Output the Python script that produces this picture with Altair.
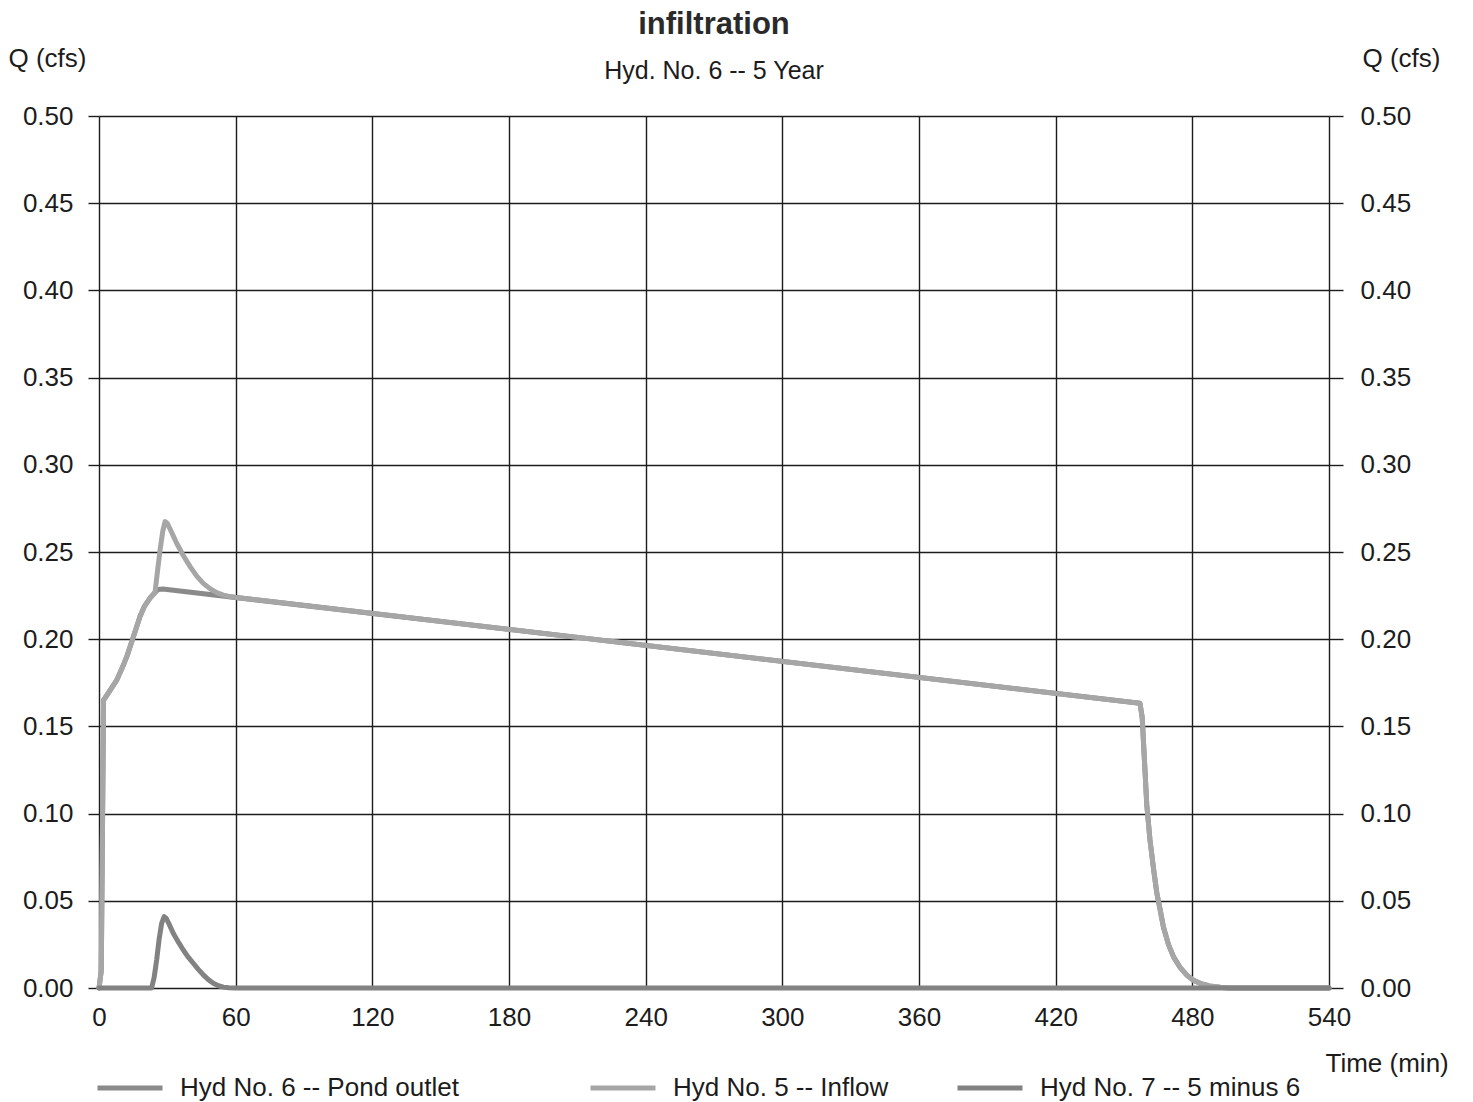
import altair as alt
import pandas as pd

# Hydrograph ordinates, time in minutes and flow in cfs
outlet_t = [0, 1, 2, 4, 6, 7.8, 10, 12.2, 15.1, 18, 20, 22.4, 24.6, 26, 28,
            457, 458, 459, 460, 461.4, 463, 464.4, 466, 467.3, 469.5, 471.7, 474.5,
            477.5, 480.5, 483.4, 487.5, 492.2, 496, 540]
outlet_q = [0, 0.01, 0.165, 0.169, 0.173, 0.1766, 0.183, 0.190, 0.2014, 0.213, 0.219, 0.2236,
            0.2268, 0.2285, 0.2288,
            0.1633, 0.155, 0.130, 0.105, 0.085, 0.068, 0.0545, 0.044, 0.035, 0.025, 0.018, 0.012,
            0.0075, 0.0045, 0.0027, 0.0012, 0.0004, 0, 0]

inflow_t = [0, 1, 2, 4, 6, 7.8, 10, 12.2, 15.1, 18, 20, 22.4, 24.6, 25.5, 26.8, 28, 29, 30,
            32, 34.1, 37, 40, 43, 45.8, 48.7, 51.7, 54.6, 57.5,
            457, 458, 459, 460, 461.4, 463, 464.4, 466, 467.3, 469.5, 471.7, 474.5,
            477.5, 480.5, 483.4, 487.5, 492.2, 496, 540]
inflow_q = [0, 0.01, 0.165, 0.169, 0.173, 0.1766, 0.183, 0.190, 0.2014, 0.213, 0.219, 0.2236,
            0.2268, 0.237, 0.251, 0.262, 0.2674, 0.2665,
            0.261, 0.255, 0.248, 0.2416, 0.236, 0.232, 0.229, 0.2267, 0.2253, 0.2244,
            0.1633, 0.155, 0.130, 0.105, 0.085, 0.068, 0.0545, 0.044, 0.035, 0.025, 0.018, 0.012,
            0.0075, 0.0045, 0.0027, 0.0012, 0.0004, 0, 0]

diff_t = [0, 23.1, 24.2, 25.3, 26.4, 27.5, 28.6, 29.5, 31, 32.6, 35, 37, 39, 41.4, 43.5,
          45.8, 48, 50.2, 52.4, 54.6, 57, 60, 540]
diff_q = [0, 0, 0.006, 0.016, 0.028, 0.037, 0.0409, 0.040, 0.036, 0.0314, 0.026, 0.0218, 0.018,
          0.0142, 0.0108, 0.0075, 0.0048, 0.0027, 0.0013, 0.0005, 0.0001, 0, 0]

series_names = ["Hyd No. 6 -- Pond outlet", "Hyd No. 5 -- Inflow", "Hyd No. 7 -- 5 minus 6"]
series_colors = ["#8a8a8a", "#a6a6a6", "#828282"]
legend_x = [-4, 489, 856]

x_ticks = [0, 60, 120, 180, 240, 300, 360, 420, 480, 540]
y_ticks = [0.0, 0.05, 0.10, 0.15, 0.20, 0.25, 0.30, 0.35, 0.40, 0.45, 0.50]

FONT = "Liberation Sans"
INK = "#1c1c1c"

frames = [
    pd.DataFrame({"t": outlet_t, "q": outlet_q, "series": series_names[0]}),
    pd.DataFrame({"t": inflow_t, "q": inflow_q, "series": series_names[1]}),
    pd.DataFrame({"t": diff_t, "q": diff_q, "series": series_names[2]}),
]

x_enc = alt.X(
    "t:Q",
    scale=alt.Scale(domain=[0, 540], nice=False, zero=False),
    axis=alt.Axis(
        values=x_ticks, format="d", grid=True, gridColor=INK, gridWidth=1.4, gridOpacity=1,
        domain=False, ticks=False, tickSize=0, labelPadding=16, labelFlush=False,
        labelFont=FONT, labelFontSize=26, labelColor=INK,
        title="Time (min)", titleFont=FONT, titleFontSize=26, titleFontWeight="normal",
        titleColor=INK, titleX=1226, titleY=83, titleAlign="left", titleBaseline="alphabetic",
        titleAnchor="start",
    ),
)

y_scale = alt.Scale(domain=[0, 0.5], nice=False)

left_axis = alt.Axis(
    values=y_ticks, format=".2f", grid=True, gridColor=INK, gridWidth=1.4, gridOpacity=1,
    domain=False, ticks=True, tickSize=11, tickColor=INK, tickWidth=1.4, labelPadding=15,
    labelFont=FONT, labelFontSize=26, labelColor=INK,
    title="Q (cfs)", titleFont=FONT, titleFontSize=26, titleFontWeight="normal", titleColor=INK,
    titleAngle=0, titleX=-91, titleY=-50, titleAlign="left", titleBaseline="alphabetic",
)

right_axis = alt.Axis(
    orient="right", values=y_ticks, format=".2f", grid=False,
    domain=False, ticks=True, tickSize=14, tickColor=INK, tickWidth=1.4, labelPadding=17,
    labelFont=FONT, labelFontSize=26, labelColor=INK,
    title="Q (cfs)", titleFont=FONT, titleFontSize=26, titleFontWeight="normal", titleColor=INK,
    titleAngle=0, titleX=33, titleY=-50, titleAlign="left", titleBaseline="alphabetic",
)

layers = []
for i, df in enumerate(frames):
    legend = alt.Legend(
        orient="none", legendX=legend_x[i], legendY=937, direction="horizontal",
        title=None, symbolType="stroke", symbolSize=4225, symbolStrokeWidth=5,
        labelFont=FONT, labelFontSize=26, labelColor=INK, labelOffset=15, labelLimit=500,
        padding=0, symbolOpacity=1,
    )
    layers.append(
        alt.Chart(df).mark_line(strokeWidth=5, strokeJoin="round", strokeCap="round").encode(
            x=x_enc,
            y=alt.Y("q:Q", scale=y_scale, axis=left_axis if i == 0 else None),
            color=alt.Color("series:N", scale=alt.Scale(domain=[series_names[i]], range=[series_colors[i]]),
                            legend=legend),
            order=alt.Order("t:Q"),
        )
    )

# Invisible layer that carries the mirrored right-hand axis
right = alt.Chart(frames[0]).mark_line(strokeOpacity=0).encode(
    x=x_enc,
    y=alt.Y("q:Q", scale=y_scale, axis=right_axis),
)

chart = alt.layer(*layers, right).resolve_scale(
    y="independent", color="independent"
).properties(
    width=1230,
    height=872,
    padding={"left": 99, "top": 116, "right": 144, "bottom": 114},
    autosize=alt.AutoSizeParams(type="none"),
    title=alt.TitleParams(
        text="infiltration", subtitle="Hyd. No. 6 -- 5 Year", anchor="middle", frame="group",
        font=FONT, fontSize=31, fontWeight="bold", color="#2a2a2a",
        subtitleFont=FONT, subtitleFontSize=25, subtitleColor=INK, subtitlePadding=18,
        offset=-40,
    ),
).configure_view(stroke=None).configure(background="white")

chart.save("out.html", embed_options={"renderer": "svg", "actions": False})
